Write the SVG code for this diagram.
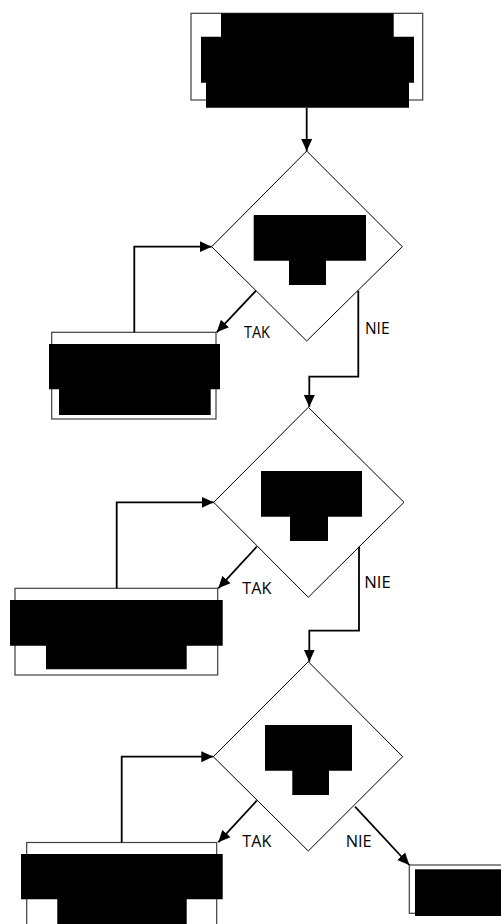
<svg xmlns="http://www.w3.org/2000/svg" width="501" height="924" viewBox="0 0 501 924">
<defs>
<style>
.box{fill:#fff;stroke:#404040;stroke-width:1.2}
.dia{fill:#fff;stroke:#000;stroke-width:1}
.blk{fill:#000;stroke:none}
.con{fill:none;stroke:#000;stroke-width:1.8}
.lbl{font-family:"Open Sans","Liberation Sans",sans-serif;font-size:15.5px;fill:#000}
</style>
<marker id="ah" markerUnits="userSpaceOnUse" markerWidth="12" markerHeight="12" viewBox="0 0 12 12" refX="12" refY="6" orient="auto">
<path d="M0,0.5 L12,6 L0,11.5 Z" fill="#000"/>
</marker>
</defs>
<rect width="501" height="924" fill="#fff"/>

<g id="start">
<rect class="box" x="191" y="13.3" width="231.7" height="86.7"/>
<path class="blk" d="M221,13.3 H393.7 V36.7 H414 V82.7 H409 V107.7 H206 V82.7 H201 V36.7 H221 Z"/>
</g>

<g id="decision1">
<polygon class="dia" points="306.7,151 402.3,246.7 306.7,341 211.7,246.7"/>
<path class="blk" d="M253.7,215 H366 V260.7 H326 V285 H289 V260.7 H253.7 Z"/>
</g>

<g id="action1">
<rect class="box" x="51.7" y="332.3" width="164.3" height="86.7"/>
<path class="blk" d="M49,344 H220 V389.3 H210.7 V415 H59 V389.3 H49 Z"/>
</g>

<g id="decision2">
<polygon class="dia" points="308.3,407.3 404,502.3 308.3,597.3 213.7,502.3"/>
<path class="blk" d="M261,471 H362 V516.7 H328 V541 H290 V516.7 H261 Z"/>
</g>

<g id="action2">
<rect class="box" x="15" y="588.3" width="202.7" height="86.7"/>
<path class="blk" d="M10,600 H222.7 V645.7 H186.7 V669.3 H46 V645.7 H10 Z"/>
</g>

<g id="decision3">
<polygon class="dia" points="308.3,661.7 402.7,756.7 308.3,851 213.3,756.7"/>
<path class="blk" d="M265,725 H352 V770.7 H329 V795 H292.3 V770.7 H265 Z"/>
</g>

<g id="action3">
<rect class="box" x="26.7" y="842.5" width="190" height="90"/>
<path class="blk" d="M21,854 H222.7 V899.3 H186.7 V924 H57.3 V899.3 H21 Z"/>
</g>

<g id="end">
<rect class="box" x="409.3" y="865" width="100" height="48.3"/>
<rect class="blk" x="415" y="869.3" width="86" height="46.7"/>
</g>

<g id="connectors">
<path class="con" d="M306.7,107.7 V151" marker-end="url(#ah)"/>
<path class="con" d="M134.3,332.3 V246.7 H211.7" marker-end="url(#ah)"/>
<path class="con" d="M256,290.7 L216.7,332.3" marker-end="url(#ah)"/>
<path class="con" d="M358.3,290.7 V376.7 H309.3 V407" marker-end="url(#ah)"/>
<path class="con" d="M116.7,588.3 V502.3 H213.7" marker-end="url(#ah)"/>
<path class="con" d="M256.7,546.7 L218.3,588.3" marker-end="url(#ah)"/>
<path class="con" d="M359,546.7 V630.7 H309.3 V661.7" marker-end="url(#ah)"/>
<path class="con" d="M121.7,842.3 V756.7 H213.3" marker-end="url(#ah)"/>
<path class="con" d="M256.7,800.7 L218.3,842.3" marker-end="url(#ah)"/>
<path class="con" d="M355,806.7 L409.3,865" marker-end="url(#ah)"/>
</g>

<g id="labels">
<text class="lbl" x="244" y="338" textLength="26" lengthAdjust="spacingAndGlyphs">TAK</text>
<text class="lbl" x="365" y="334" textLength="24.5" lengthAdjust="spacingAndGlyphs">NIE</text>
<text class="lbl" x="242.3" y="594" textLength="29" lengthAdjust="spacingAndGlyphs">TAK</text>
<text class="lbl" x="364.3" y="588.3" textLength="26.5" lengthAdjust="spacingAndGlyphs">NIE</text>
<text class="lbl" x="242.3" y="847.3" textLength="29" lengthAdjust="spacingAndGlyphs">TAK</text>
<text class="lbl" x="345.7" y="847.3" textLength="26" lengthAdjust="spacingAndGlyphs">NIE</text>
</g>
</svg>
